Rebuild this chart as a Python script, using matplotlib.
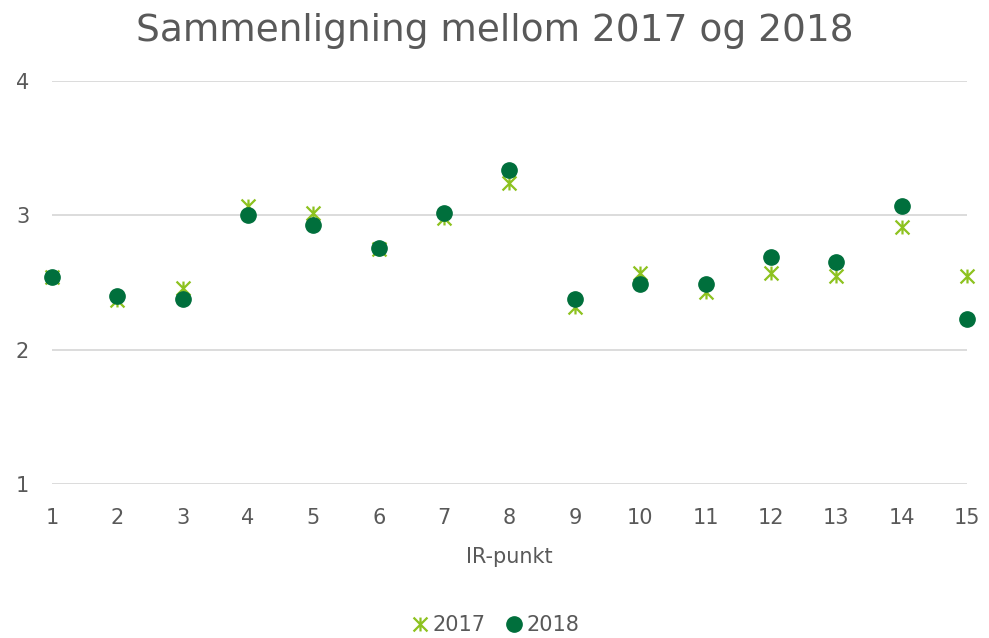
import matplotlib
matplotlib.use("Agg")
import matplotlib.pyplot as plt
from matplotlib.path import Path

ir_points = list(range(1, 16))
values_2017 = [2.54, 2.37, 2.46, 3.07, 3.02, 2.75, 2.98, 3.24, 2.32, 2.57, 2.43, 2.57, 2.55, 2.91, 2.55]
values_2018 = [2.54, 2.40, 2.38, 3.00, 2.93, 2.76, 3.02, 3.34, 2.38, 2.49, 2.49, 2.69, 2.65, 3.07, 2.23]

# Excel-style star marker: an X with a vertical stroke through it
star = Path(
    [(-1, -1), (1, 1), (-1, 1), (1, -1), (0, -1), (0, 1)],
    [Path.MOVETO, Path.LINETO, Path.MOVETO, Path.LINETO, Path.MOVETO, Path.LINETO],
)

text_col = "#595959"
plt.rcParams["font.family"] = "DejaVu Sans"

fig = plt.figure(figsize=(9.89, 6.38), dpi=100)
ax = fig.add_axes([52 / 989, 1 - 484 / 638, (967 - 52) / 989, (484 - 81) / 638])

ax.plot(ir_points, values_2017, linestyle="none", marker=star, markersize=10,
        markeredgewidth=1.6, color="#8DC21F", label="2017", clip_on=False, zorder=3)
ax.plot(ir_points, values_2018, linestyle="none", marker="o", markersize=11,
        color="#006F3C", label="2018", clip_on=False, zorder=4)

ax.set_xlim(1, 15)
ax.set_ylim(1, 4)
ax.set_xticks(ir_points)
ax.set_yticks([1, 2, 3, 4])
ax.grid(axis="y", color="#d9d9d9", linewidth=1.3)
ax.set_axisbelow(True)
for s in ax.spines.values():
    s.set_visible(False)
ax.tick_params(length=0, labelsize=15, colors=text_col, pad=17)
ax.tick_params(axis="y", pad=26)
for lbl in ax.get_yticklabels():
    lbl.set_horizontalalignment("left")

ax.set_xlabel("IR-punkt", fontsize=15, color=text_col, labelpad=14)
fig.suptitle("Sammenligning mellom 2017 og 2018", fontsize=27, color=text_col, y=0.98)

fig.legend(loc="lower center", ncol=2, frameon=False, fontsize=15, labelcolor=text_col,
           bbox_to_anchor=(0.5, -0.025), handletextpad=0.1, columnspacing=0.9, handlelength=1.0)

fig.savefig("out.png", dpi=100)
